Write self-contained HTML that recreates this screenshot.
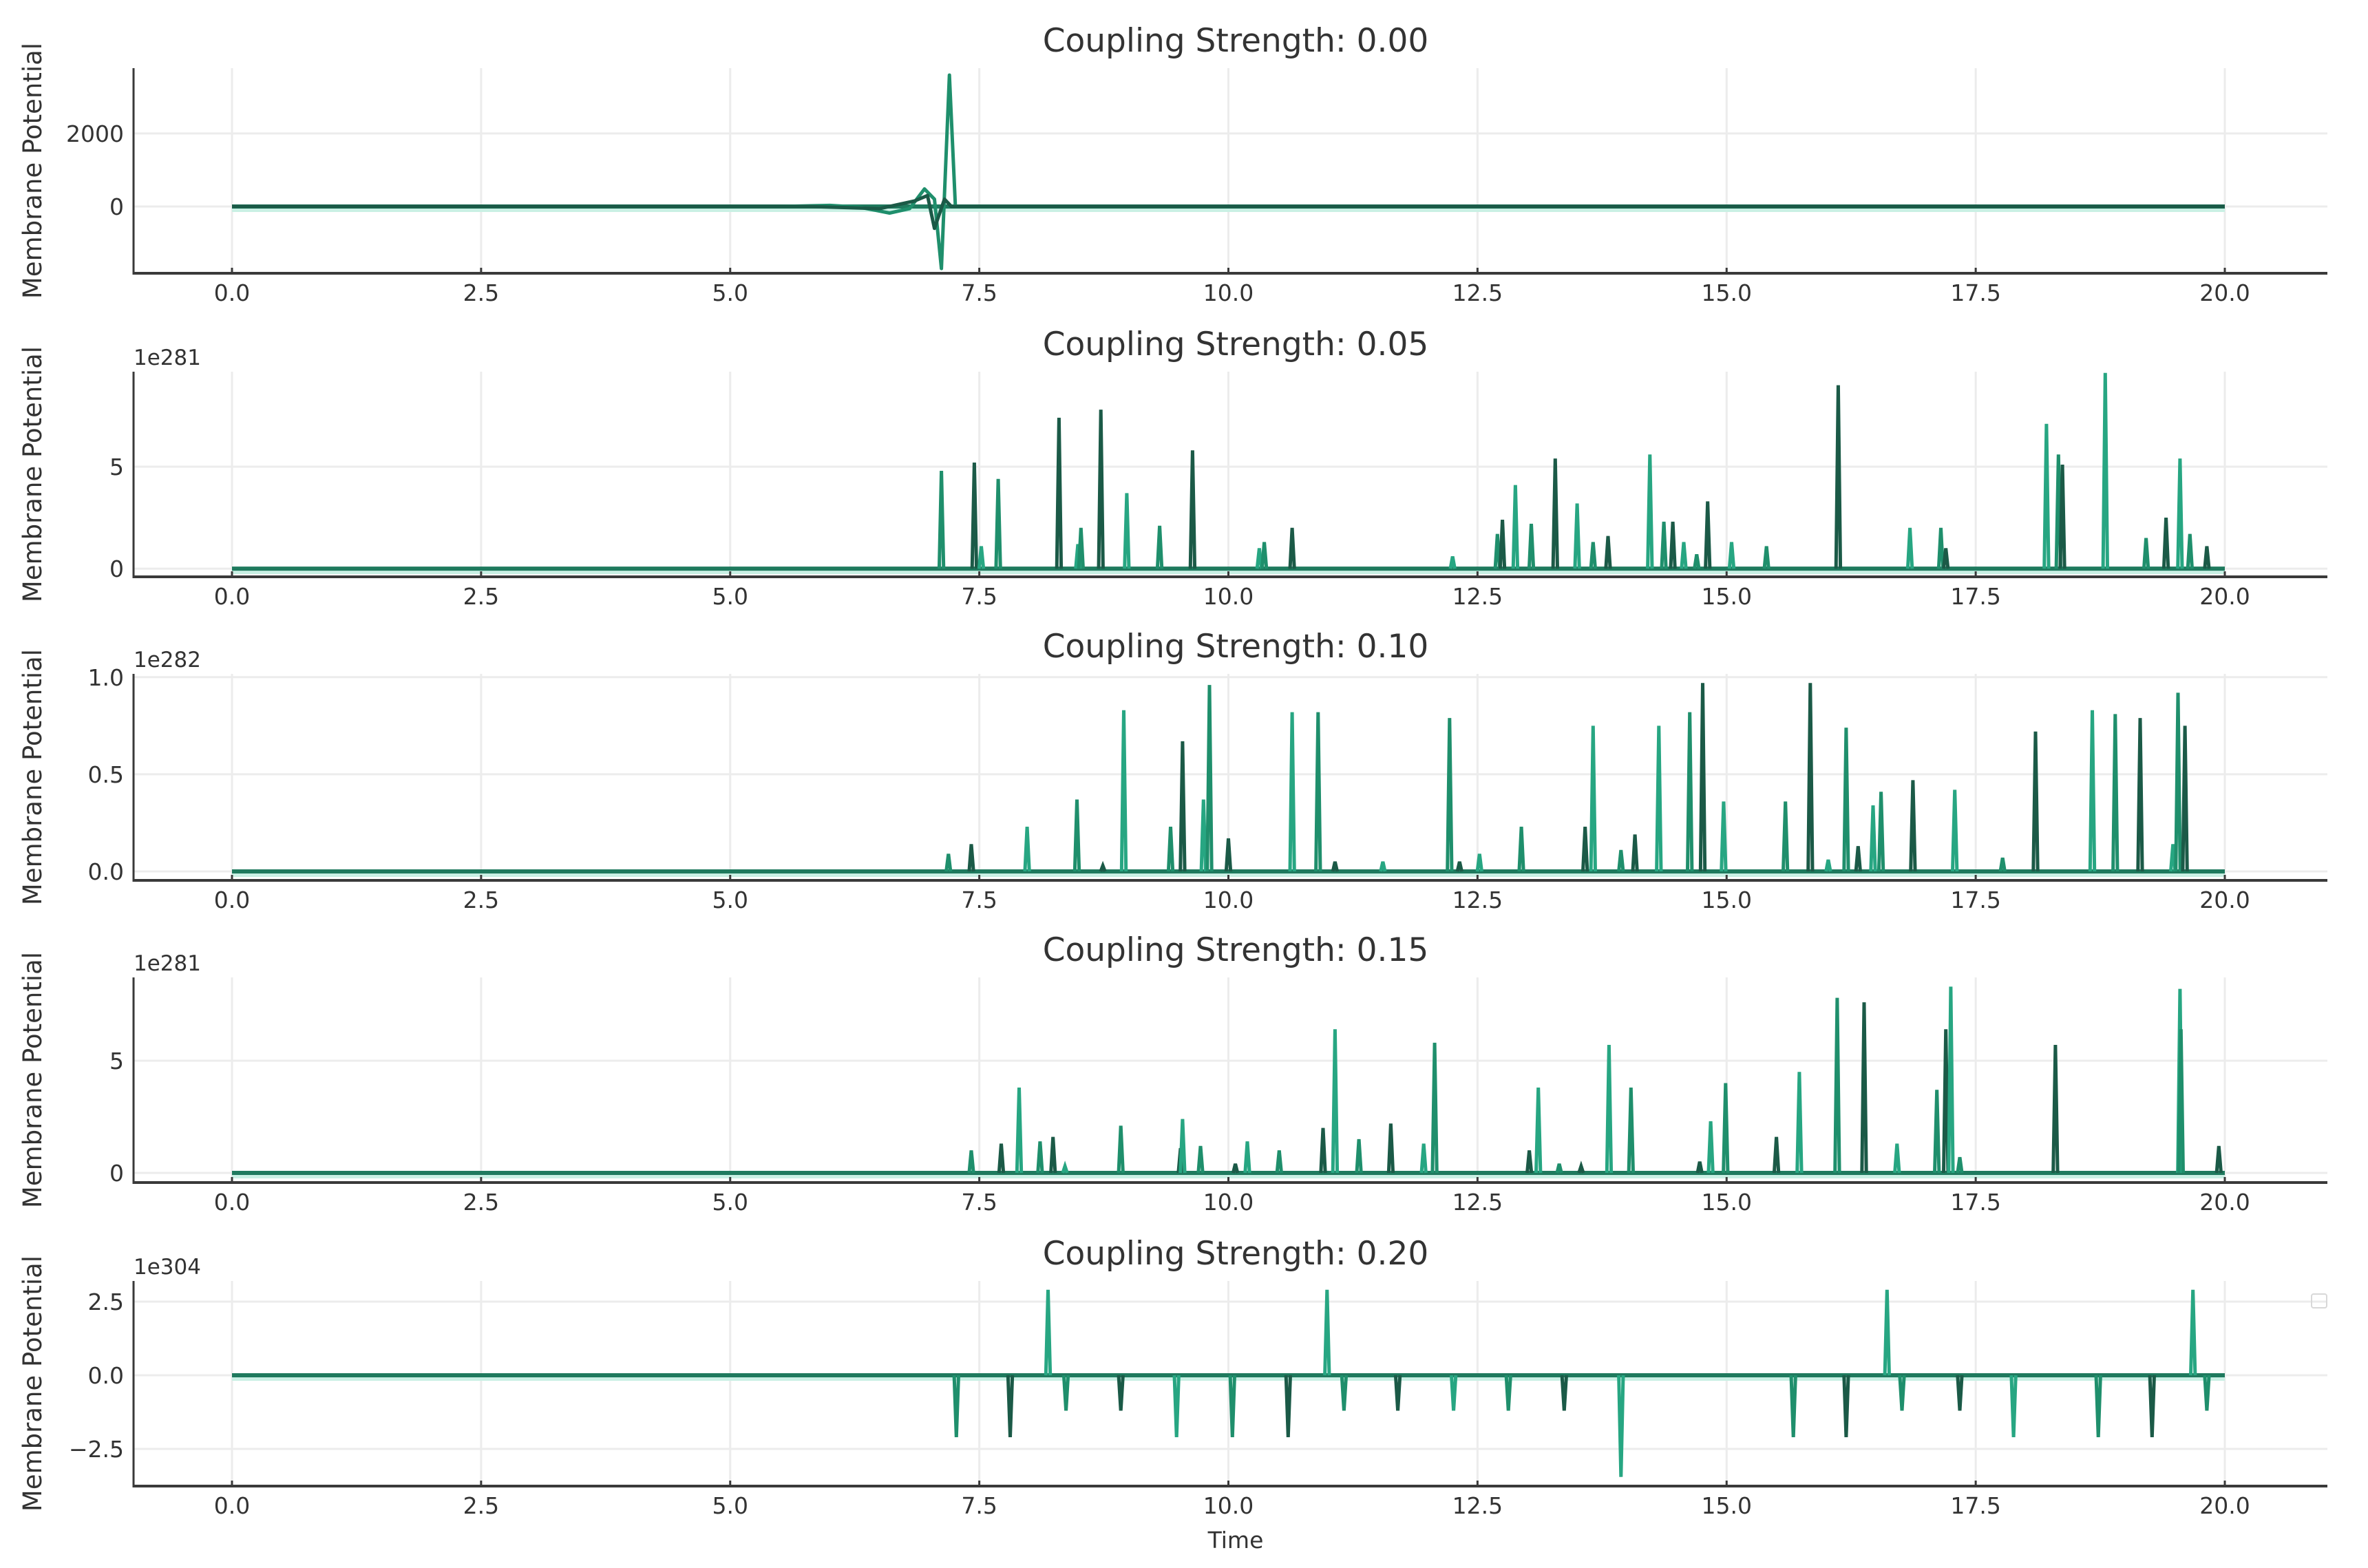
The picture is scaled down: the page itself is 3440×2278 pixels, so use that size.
<!DOCTYPE html>
<html><head><meta charset="utf-8"><style>
html,body{margin:0;padding:0;background:#fff;}
svg{display:block;font-family:"DejaVu Sans","Liberation Sans",sans-serif;}
</style></head><body>
<svg id="chart" width="3440" height="2278" viewBox="0 0 3440 2278" xmlns="http://www.w3.org/2000/svg"></svg>
<script>
// ---------- data ----------
const xTicks = [0, 2.5, 5, 7.5, 10, 12.5, 15, 17.5, 20];
const titles = ["Coupling Strength: 0.00","Coupling Strength: 0.05","Coupling Strength: 0.10","Coupling Strength: 0.15","Coupling Strength: 0.20"];
const offsets = ["", "1e281", "1e282", "1e281", "1e304"];
const yTicks0 = [0, 2000];
const yTicks1 = [0, 5];
const yTicks2 = [0.0, 0.5, 1.0];
const yTicks3 = [0, 5];
const yTicks4 = [-2.5, 0.0, 2.5];
const yTickLabels4 = ["\u22122.5", "0.0", "2.5"];
const yTickLabels2 = ["0.0", "0.5", "1.0"];

// panel 1 waveform (two traces)
const p1TimesA = [0, 5.5, 6.0, 6.3, 6.6, 6.8, 6.95, 7.05, 7.12, 7.2, 7.26, 20];
const p1ValsA  = [0, 0, 30, -20, -180, -60, 480, 200, -1700, 3600, 0, 0];
const p1TimesB = [0, 5.8, 6.5, 6.85, 6.98, 7.05, 7.15, 7.22, 20];
const p1ValsB  = [0, 0, -60, 150, 300, -600, 200, 0, 0];

// panel 2 spikes (x1e281)
const p2Times = [7.12,7.45,7.52,7.69,8.3,8.49,8.52,8.72,8.98,9.31,9.64,10.31,10.36,10.64,12.25,12.7,12.75,12.88,13.04,13.28,13.5,13.66,13.81,14.23,14.37,14.46,14.57,14.7,14.81,15.05,15.4,16.12,16.84,17.15,17.2,18.21,18.33,18.37,18.8,19.21,19.41,19.55,19.65,19.82];
const p2Vals = [4.8,5.2,1.1,4.4,7.4,1.2,2.0,7.8,3.7,2.1,5.8,1.0,1.3,2.0,0.6,1.7,2.4,4.1,2.2,5.4,3.2,1.3,1.6,5.6,2.3,2.3,1.3,0.7,3.3,1.3,1.1,9.0,2.0,2.0,1.0,7.1,5.6,5.1,9.6,1.5,2.5,5.4,1.7,1.1];

// panel 3 spikes (x1e282)
const p3Times = [7.19,7.42,7.98,8.48,8.74,8.95,9.42,9.54,9.75,9.81,10.0,10.64,10.9,11.07,11.55,12.22,12.32,12.52,12.94,13.58,13.66,13.94,14.08,14.32,14.63,14.76,14.97,15.59,15.84,16.02,16.2,16.32,16.47,16.55,16.87,17.29,17.77,18.1,18.67,18.9,19.15,19.48,19.53,19.6];
const p3Vals = [0.09,0.14,0.23,0.37,0.03,0.83,0.23,0.67,0.37,0.96,0.17,0.82,0.82,0.05,0.05,0.79,0.05,0.09,0.23,0.23,0.75,0.11,0.19,0.75,0.82,0.97,0.36,0.36,0.97,0.06,0.74,0.13,0.34,0.41,0.47,0.42,0.07,0.72,0.83,0.81,0.79,0.14,0.92,0.75];

// panel 4 spikes (x1e281)
const p4Times = [7.42,7.72,7.9,8.11,8.24,8.36,8.92,9.52,9.54,9.72,10.07,10.19,10.51,10.95,11.07,11.31,11.63,11.96,12.07,13.02,13.11,13.32,13.54,13.82,14.04,14.73,14.84,14.99,15.5,15.73,16.11,16.38,16.71,17.11,17.2,17.25,17.34,18.3,19.55,19.56,19.94];
const p4Vals = [1.0,1.3,3.8,1.4,1.6,0.3,2.1,1.1,2.4,1.2,0.4,1.4,1.0,2.0,6.4,1.5,2.2,1.3,5.8,1.0,3.8,0.4,0.3,5.7,3.8,0.5,2.3,4.0,1.6,4.5,7.8,7.6,1.3,3.7,6.4,8.3,0.7,5.7,8.2,6.4,1.2];

// panel 5 spikes (x1e304)
const p5Times = [7.27,7.81,8.19,8.37,8.92,9.48,10.04,10.6,10.99,11.16,11.7,12.26,12.81,13.37,13.94,15.67,16.2,16.61,16.76,17.34,17.88,18.73,19.27,19.68,19.82];
const p5Vals = [-2.1,-2.1,2.9,-1.2,-1.2,-2.1,-2.1,-2.1,2.9,-1.2,-1.2,-1.2,-1.2,-1.2,-3.45,-2.1,-2.1,2.9,-1.2,-1.2,-2.1,-2.1,-2.1,2.9,-1.2];

// ---------- drawing ----------
const NS = "http://www.w3.org/2000/svg";
const svg = document.getElementById("chart");
const X0 = 194, X1 = 3381;
const T0px = 337, T20px = 3232;
function xScale(t){ return T0px + (T20px - T0px) * t / 20; }
const panels = [
  {top: 99,  bot: 397,  ymin: -1830, ymax: 3790},
  {top: 540, bot: 838,  ymin: -0.4,  ymax: 9.66},
  {top: 979, bot: 1279, ymin: -0.046, ymax: 1.017},
  {top: 1420,bot: 1718, ymin: -0.43, ymax: 8.71},
  {top: 1861,bot: 2159, ymin: -3.76, ymax: 3.2}
];
const COLS = ["#1f8f6c", "#1b5a47", "#27a682"];
function mk(tag, attrs, parent){
  const e = document.createElementNS(NS, tag);
  for (const k in attrs) e.setAttribute(k, attrs[k]);
  (parent || svg).appendChild(e);
  return e;
}
const allTicksY = [yTicks0, yTicks1, yTicks2, yTicks3, yTicks4];
const allLabelsY = [null, null, yTickLabels2, null, yTickLabels4];
const spikeT = [null, p2Times, p3Times, p4Times, p5Times];
const spikeV = [null, p2Vals, p3Vals, p4Vals, p5Vals];

panels.forEach((p, i) => {
  const g = mk("g", {});
  
  
  const yS = v => p.bot - (v - p.ymin) / (p.ymax - p.ymin) * (p.bot - p.top);
  xTicks.forEach(t => {
    const l = mk("line", {x1: xScale(t), x2: xScale(t), y1: p.top, y2: p.bot, stroke: "#ececec", "stroke-width": 3}, g);
    
    
  });
  allTicksY[i].forEach(v => {
    const l = mk("line", {x1: X0, x2: X1, y1: yS(v), y2: yS(v), stroke: "#ececec", "stroke-width": 3}, g);
    
    
  });
  const z = yS(0);
  const band = mk("rect", {x: xScale(0), y: z, width: xScale(20) - xScale(0), height: 8, fill: "#c9f0e4"}, g);
  
  
  const bl = mk("line", {x1: xScale(0), x2: xScale(20), y1: z, y2: z, stroke: "#1f7a5e", "stroke-width": 6}, g);
  
  
  if (i === 0) {
    const traces = [[p1TimesA, p1ValsA, COLS[0]], [p1TimesB, p1ValsB, COLS[1]]];
    traces.forEach((tr, k) => {
      const pts = tr[0].map((t, j) => xScale(t).toFixed(1) + "," + yS(tr[1][j]).toFixed(1)).join(" ");
      const pl = mk("polyline", {points: pts, fill: "none", stroke: tr[2], "stroke-width": 5, "stroke-linejoin": "round"}, g);
      
      
    });
  } else {
    const ts = spikeT[i], vs = spikeV[i];
    ts.forEach((t, j) => {
      const w = 0.022;
      const pts = [[t - w, 0], [t, vs[j]], [t + w, 0]].map(a => xScale(a[0]).toFixed(1) + "," + yS(a[1]).toFixed(1)).join(" ");
      const pl = mk("polyline", {points: pts, fill: "none", stroke: COLS[j % 3], "stroke-width": 5, "stroke-linejoin": "miter"}, g);
      
      
    });
  }
  const ls = mk("line", {x1: X0, x2: X0, y1: p.top, y2: p.bot + 2, stroke: "#3a3a3a", "stroke-width": 3}, g);
  
  
  const bs = mk("line", {x1: X0 - 1, x2: X1, y1: p.bot, y2: p.bot, stroke: "#3a3a3a", "stroke-width": 4}, g);
  
  
  xTicks.forEach(t => {
    const tk = mk("line", {x1: xScale(t), x2: xScale(t), y1: p.bot, y2: p.bot - 8, stroke: "#3a3a3a", "stroke-width": 3}, g);
    
    
    const tx = mk("text", {x: xScale(t), y: p.bot + 40, "text-anchor": "middle", "font-size": 33, fill: "#333"}, g);
    tx.textContent = t.toFixed(1);
    
    
  });
  allTicksY[i].forEach((v, j) => {
    const tx = mk("text", {x: X0 - 14, y: yS(v) + 12, "text-anchor": "end", "font-size": 33, fill: "#333"}, g);
    tx.textContent = allLabelsY[i] ? allLabelsY[i][j] : String(v);
    
    
  });
  if (offsets[i]) {
    const ot = mk("text", {x: X0, y: p.top - 10, "font-size": 31, fill: "#333"}, g);
    ot.textContent = offsets[i];
    
    
  }
  const tt = mk("text", {x: 1795, y: p.top - 24, "text-anchor": "middle", "font-size": 47, fill: "#333"}, g);
  tt.textContent = titles[i];
  
  
  const cy = (p.top + p.bot) / 2;
  const yl = mk("text", {x: 60, y: cy, "text-anchor": "middle", "font-size": 37, fill: "#333", transform: "rotate(-90 60 " + cy + ")"}, g);
  yl.textContent = "Membrane Potential";
  
  
});
const lg = mk("rect", {x: 3358, y: 1880, width: 22, height: 20, fill: "none", stroke: "#d8d8d8", "stroke-width": 2, rx: 3});


const xt = mk("text", {x: 1795, y: 2249, "text-anchor": "middle", "font-size": 33, fill: "#333"});
xt.textContent = "Time";


</script>
</body></html>
